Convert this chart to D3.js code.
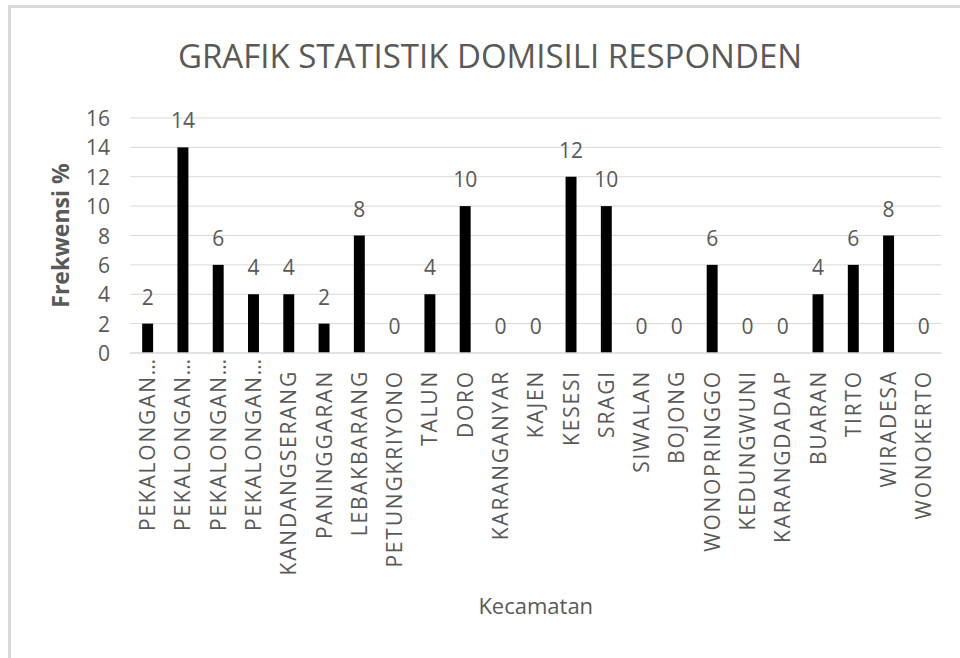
<!DOCTYPE html>
<html>
<head>
<meta charset="utf-8">
<script src="https://cdn.jsdelivr.net/npm/d3@7"></script>
<style>
  body { margin: 0; background: #fff; }
  svg { display: block; font-family: "Open Sans", sans-serif; }
</style>
</head>
<body>
<div class="chart"></div>
<script>
//data
const kecamatan = ['PEKALONGAN…','PEKALONGAN…','PEKALONGAN…','PEKALONGAN…','KANDANGSERANG','PANINGGARAN',
    'LEBAKBARANG','PETUNGKRIYONO','TALUN','DORO','KARANGANYAR','KAJEN','KESESI','SRAGI','SIWALAN',
    'BOJONG','WONOPRINGGO','KEDUNGWUNI','KARANGDADAP','BUARAN','TIRTO','WIRADESA','WONOKERTO'];
const frekwensi = [2,14,6,4,4,2,8,0,4,10,0,0,12,10,0,0,6,0,0,4,6,8,0];
const yTicks = [0,2,4,6,8,10,12,14,16];

const data = kecamatan.map((k,i)=>({name:k, value:frekwensi[i], i:i}));

const width = 960, height = 658;
const margin = {top:118, right:18.5, bottom:305, left:130};
const chart_width = width - margin.left - margin.right;
const chart_height = height - margin.top - margin.bottom;
const grey = '#595959';

const svg = d3.select('.chart').append('svg')
    .attr('width', width).attr('height', height);

//frame (only top and left edges are visible)
svg.append('rect').attr('x',8).attr('y',5).attr('width',width).attr('height',3).attr('fill','#d9d9d9');
svg.append('rect').attr('x',8).attr('y',5).attr('width',3).attr('height',height).attr('fill','#d9d9d9');

const g = svg.append('g').attr('transform',`translate(${margin.left},${margin.top})`);

//scales
const xScale = d3.scaleBand().domain(data.map(d=>d.i)).range([0, chart_width]);
const yScale = d3.scaleLinear().domain([0,16]).range([chart_height, 0]);
const barW = xScale.bandwidth()*0.31;

//gridlines
g.append('g').attr('class','grid')
    .selectAll('line').data(yTicks.filter(t=>t>0)).join('line')
    .attr('x1',0).attr('x2',chart_width)
    .attr('y1',d=>yScale(d)).attr('y2',d=>yScale(d))
    .attr('stroke','#d9d9d9').attr('stroke-width',1);

//y axis
const yAxis = d3.axisLeft(yScale).tickValues(yTicks).tickSize(0).tickPadding(20);
const yAxisDraw = g.append('g').call(yAxis);
yAxisDraw.select('.domain').remove();
yAxisDraw.selectAll('text')
    .style('font-family','"Open Sans", sans-serif')
    .style('font-size','21px').attr('fill',grey).attr('dy','0.36em');

//bars
g.selectAll('.bar').data(data).join('rect')
    .attr('class','bar')
    .attr('x',d=>xScale(d.i)+xScale.bandwidth()/2-barW/2)
    .attr('y',d=>yScale(d.value))
    .attr('width',barW)
    .attr('height',d=>chart_height-yScale(d.value))
    .attr('fill','#000');

//x axis line
g.append('line').attr('x1',0).attr('x2',chart_width)
    .attr('y1',chart_height).attr('y2',chart_height)
    .attr('stroke','#d9d9d9').attr('stroke-width',1.5);

//x labels (rotated)
g.selectAll('.xlabel').data(data).join('text')
    .attr('class','xlabel')
    .attr('transform',d=>{
        const off = d.name.endsWith('…') ? 4 : 17;
        return `translate(${xScale(d.i)+xScale.bandwidth()/2},${chart_height+off}) rotate(-90)`;
    })
    .attr('text-anchor','end')
    .attr('dy','0.36em')
    .style('font-size','21px')
    .style('letter-spacing','1.8px')
    .attr('fill',grey)
    .text(d=>d.name);

//data labels
g.selectAll('.vlabel').data(data).join('text')
    .attr('class','vlabel')
    .attr('x',d=>xScale(d.i)+xScale.bandwidth()/2)
    .attr('y',d=>yScale(d.value)-19)
    .attr('text-anchor','middle')
    .style('font-size','21px')
    .attr('fill',grey)
    .text(d=>d.value);

//title
svg.append('text').attr('x',490).attr('y',68)
    .attr('text-anchor','middle')
    .style('font-size','33px')
    .attr('fill',grey)
    .text('GRAFIK STATISTIK DOMISILI RESPONDEN');

//axis titles
svg.append('text')
    .attr('transform',`translate(69,${margin.top+chart_height/2}) rotate(-90)`)
    .attr('text-anchor','middle')
    .style('font-size','23px').style('font-weight','bold')
    .attr('fill',grey)
    .text('Frekwensi %');

svg.append('text').attr('x',margin.left+chart_width/2).attr('y',614)
    .attr('text-anchor','middle')
    .style('font-size','22px')
    .attr('fill',grey)
    .text('Kecamatan');
</script>
</body>
</html>
